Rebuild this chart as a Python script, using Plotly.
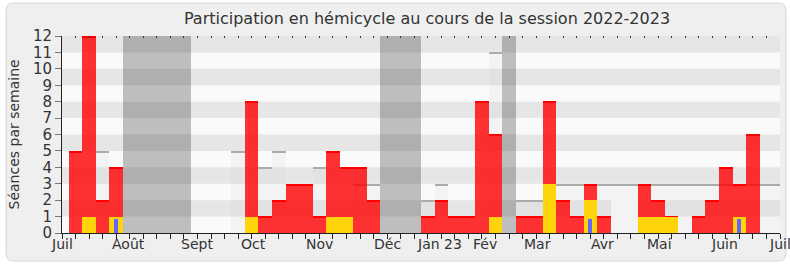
import plotly.graph_objects as go

# ---------------- data ----------------
semaines = list(range(53))  # week index, 0 = week of 4 July 2022

presences = [5, 12, 2, 4, 0, 0, 0, 0, 0, 0, 0, 0, 0, 8, 1, 2, 3, 3, 1, 5, 4, 4, 2,
             0, 0, 0, 1, 2, 1, 1, 8, 6, 0, 1, 1, 8, 2, 1, 3, 1, 0, 0, 3, 2, 1, 0,
             1, 2, 4, 3, 6, 0, 0]

participations = [0, 1, 0, 1, 0, 0, 0, 0, 0, 0, 0, 0, 0, 1, 0, 0, 0, 0, 0, 1, 1, 0, 0,
                  0, 0, 0, 0, 0, 0, 0, 0, 1, 0, 0, 0, 3, 0, 0, 2, 0, 0, 0, 1, 1, 1, 0,
                  0, 0, 0, 1, 0, 0, 0]

questions = [0, 0, 0, 0.85, 0, 0, 0, 0, 0, 0, 0, 0, 0, 0, 0, 0, 0, 0, 0, 0, 0, 0, 0,
             0, 0, 0, 0, 0, 0, 0, 0, 0, 0, 0, 0, 0, 0, 0, 0.85, 0, 0, 0, 0, 0, 0, 0,
             0, 0, 0, 0.85, 0, 0, 0]

seances = [None, None, 5, None, None, None, None, None, None, None, None, None, 5, None,
           4, 5, None, None, 4, None, None, 3, 3, None, None, None, 2, 3, None, None,
           None, 11, None, 2, 2, None, 3, 3, 3, 3, 3, 3, 3, 3, 3, 3, 3, 3, 3, 3, 3, 3, 3]

sans_seance = [0] * 40 + [2, 2] + [0] * 11

vacances = [4, 5, 6, 7, 8, 23, 24, 25, 32]

mois_labels = ["Juil", "Août", "Sept", "Oct", "Nov", "Déc", "Jan 23", "Fév",
               "Mar", "Avr", "Mai", "Juin", "Juil"]
mois_pos = [-1, 3.9, 9, 13.1, 18, 23, 26.9, 30.2, 34.1, 38.9, 43.1, 47.9, 52]

y_ticks = list(range(0, 13))

# ---------------- styling ----------------
FONT = "DejaVu Sans, Verdana, sans-serif"
W, H = 790, 267
ML, MR, MT, MB = 62, 10, 36, 34
XMIN, XMAX = -1, 52
YMAX = 12

fig = go.Figure()

# vacation columns
fig.add_trace(go.Bar(x=vacances, y=[YMAX] * len(vacances), width=1,
                     marker=dict(color="rgba(0,0,0,0.24)", line=dict(width=0)),
                     hoverinfo="skip", showlegend=False))

# weeks without sittings (white)
fig.add_trace(go.Bar(x=semaines, y=sans_seance, width=1,
                     marker=dict(color="#FAFAFA", line=dict(width=0)),
                     hoverinfo="skip", showlegend=False))

# light "séances" bars
fig.add_trace(go.Bar(x=semaines, y=[s if s is not None else 0 for s in seances], width=1,
                     marker=dict(color="rgba(200,200,200,0.12)", line=dict(width=0)),
                     hoverinfo="skip", showlegend=False))
# grey top edge of séances bars
th_g = 0.09
sx = [w for w, s in zip(semaines, seances) if s]
sy = [s for s in seances if s]
fig.add_trace(go.Bar(x=sx, y=[th_g] * len(sx), base=[s - th_g for s in sy], width=1,
                     marker=dict(color="#ABABAB", line=dict(width=0)),
                     hoverinfo="skip", showlegend=False))

# presences (red)
fig.add_trace(go.Bar(x=semaines, y=presences, width=1,
                     marker=dict(color="rgba(255,0,0,0.8)", line=dict(width=0)),
                     hoverinfo="skip", showlegend=False))
th_r = 0.08
px_ = [w for w, p in zip(semaines, presences) if p]
py_ = [p for p in presences if p]
fig.add_trace(go.Bar(x=px_, y=[th_r] * len(px_), base=[p - th_r for p in py_], width=1,
                     marker=dict(color="#FF0000", line=dict(width=0)),
                     hoverinfo="skip", showlegend=False))

# participations (yellow)
fig.add_trace(go.Bar(x=semaines, y=participations, width=1,
                     marker=dict(color="#FFD40B", line=dict(width=0)),
                     hoverinfo="skip", showlegend=False))

# questions (blue, thin)
fig.add_trace(go.Bar(x=semaines, y=questions, width=0.3,
                     marker=dict(color="#6666FF", line=dict(width=0)),
                     hoverinfo="skip", showlegend=False))

# invisible trace for the top tick axis
fig.add_trace(go.Scatter(x=[0], y=[0], xaxis="x2", mode="markers",
                         marker=dict(opacity=0), hoverinfo="skip", showlegend=False))

# ---------------- shapes: frame, plot background, stripes ----------------
pw, ph = W - ML - MR, H - MT - MB
def xp(px):
    return (px - ML) / pw
def yp(py):
    return (H - MB - py) / ph

x0, x1 = xp(6), xp(786)
y1, y0 = yp(3), yp(261)
rx, ry = 8 / pw, 8 / ph
path = (f"M {x0+rx},{y1} L {x1-rx},{y1} Q {x1},{y1} {x1},{y1-ry} "
        f"L {x1},{y0+ry} Q {x1},{y0} {x1-rx},{y0} L {x0+rx},{y0} "
        f"Q {x0},{y0} {x0},{y0+ry} L {x0},{y1-ry} Q {x0},{y1} {x0+rx},{y1} Z")
shapes = [
    dict(type="path", path=path, xref="paper", yref="paper",
         fillcolor="#EFEFEF", line=dict(color="#D6D6D6", width=1), layer="below"),
    dict(type="rect", xref="paper", yref="paper", x0=0, x1=1, y0=0, y1=1,
         fillcolor="#FAFAFA", line=dict(width=0), layer="below"),
]
for k in y_ticks[1::2]:
    shapes.append(dict(type="rect", xref="paper", yref="y", x0=0, x1=1, y0=k, y1=k + 1,
                       fillcolor="#E6E6E6", line=dict(width=0), layer="below"))

# ---------------- annotations ----------------
annotations = []
for lab, pos in zip(mois_labels, mois_pos):
    annotations.append(dict(x=pos, y=0, xref="x", yref="paper", text=lab,
                            showarrow=False, yanchor="top", xanchor="center", yshift=-1,
                            font=dict(family=FONT, size=14, color="#333333")))
annotations.append(dict(x=xp(13), y=0.5, xref="paper", yref="paper",
                        text="Séances par semaine", textangle=-90, showarrow=False,
                        xanchor="center", yanchor="middle",
                        font=dict(family=FONT, size=14, color="#333333")))

fig.update_layout(
    width=W, height=H,
    margin=dict(l=ML, r=MR, t=MT, b=MB, pad=0),
    paper_bgcolor="white", plot_bgcolor="rgba(0,0,0,0)",
    barmode="overlay", bargap=0,
    title=dict(text="Participation en hémicycle au cours de la session 2022-2023",
               x=xp(427), xref="paper", xanchor="center",
               y=1 - 18 / H, yref="container", yanchor="middle",
               font=dict(family=FONT, size=16, color="#333333")),
    xaxis=dict(range=[XMIN, XMAX], tickmode="linear", tick0=0, dtick=1,
               ticks="outside", ticklen=5, tickcolor="#222222", tickwidth=1,
               showticklabels=False, showline=True, linecolor="#222222", linewidth=1,
               showgrid=False, zeroline=False, fixedrange=True),
    xaxis2=dict(range=[XMIN, XMAX], overlaying="x", side="top", tickmode="linear",
                tick0=0, dtick=1, ticks="inside", ticklen=2, tickcolor="#333333",
                showticklabels=False, showline=False, showgrid=False, zeroline=False),
    yaxis=dict(range=[0, YMAX], tickmode="array", tickvals=y_ticks,
               ticktext=[str(v) for v in y_ticks],
               ticks="outside", ticklen=6, tickcolor="#777777", tickwidth=1,
               tickfont=dict(family=FONT, size=15, color="#333333"),
               showline=True, linecolor="#222222", linewidth=1,
               showgrid=False, zeroline=False, fixedrange=True),
    shapes=shapes, annotations=annotations,
    font=dict(family=FONT),
)

fig.write_html("out.html")
